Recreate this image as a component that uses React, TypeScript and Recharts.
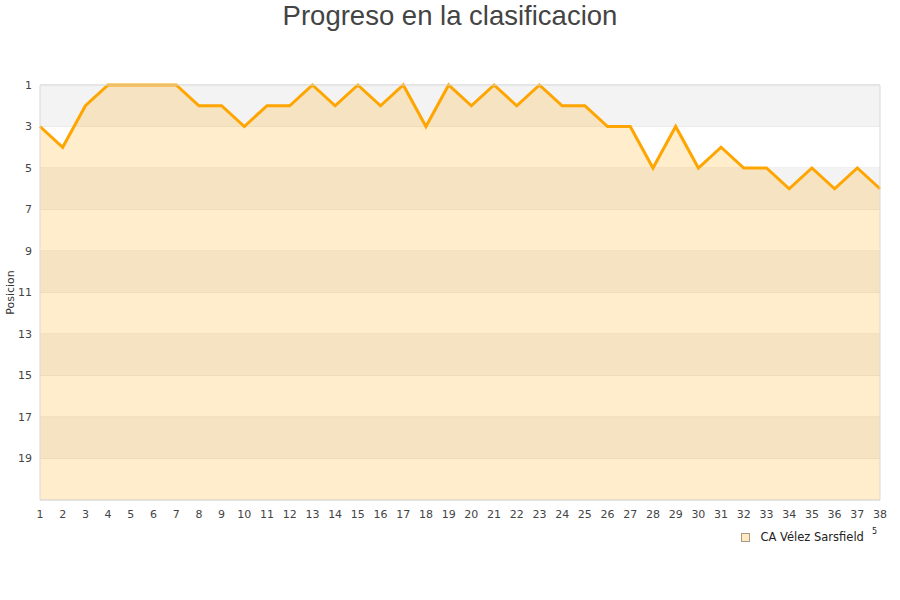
import React from 'react';
import { ComposedChart, Area, XAxis, YAxis, CartesianGrid, ReferenceArea, Legend } from 'recharts';

// matchdays
const rounds = [1, 2, 3, 4, 5, 6, 7, 8, 9, 10, 11, 12, 13, 14, 15, 16, 17, 18, 19,
  20, 21, 22, 23, 24, 25, 26, 27, 28, 29, 30, 31, 32, 33, 34, 35, 36, 37, 38];

// table position after each matchday
const positions = [3, 4, 2, 1, 1, 1, 1, 2, 2, 3, 2, 2, 1, 2, 1, 2, 1, 3, 1,
  2, 1, 2, 1, 2, 2, 3, 3, 5, 3, 5, 4, 5, 5, 6, 5, 6, 5, 6];

const yTicks = [1, 3, 5, 7, 9, 11, 13, 15, 17, 19];
const teamName = 'CA Vélez Sarsfield';

const data = rounds.map((r, i) => ({ round: r, pos: positions[i] }));

// shaded bands: every other tick interval
const bands = yTicks.filter((_, i) => i % 2 === 0).map((t) => [t, t + 2]);

const font = '"DejaVu Sans", Verdana, sans-serif';

function LegendBox() {
  return (
    <div style={{ display: 'flex', alignItems: 'center', justifyContent: 'flex-end', fontFamily: font, fontSize: 11.5, lineHeight: '13px', color: '#222', paddingRight: 22 }}>
      <span style={{ display: 'inline-block', width: 7, height: 7, background: '#ffe9c2', border: '1px solid #a89a80', marginRight: 10 }} />
      <span>{teamName}</span>
      <span style={{ fontSize: 8, marginLeft: 8, position: 'relative', top: -6 }}>5</span>
    </div>
  );
}

export default function App() {
  return (
    <div style={{ position: 'absolute', left: 0, top: 0, width: 900, height: 600, background: '#fff' }}>
      <div style={{ position: 'absolute', top: 0, left: 0, width: 900, textAlign: 'center', fontFamily: '"Liberation Sans", Arial, sans-serif', fontSize: 27.5, color: '#444', lineHeight: '32px' }}>
        Progreso en la clasificacion
      </div>
      <ComposedChart width={900} height={600} data={data} margin={{ top: 85, right: 20, left: 8, bottom: 67 }}>
        {bands.map(([a, b]) => (
          <ReferenceArea key={a} y1={a} y2={b} fill="#f3f3f3" fillOpacity={1} stroke="none" />
        ))}
        <CartesianGrid vertical={false} stroke="#e0e0e0" />
        <XAxis
          type="number"
          dataKey="round"
          domain={[1, 38]}
          ticks={rounds}
          interval={0}
          axisLine={false}
          tickLine={false}
          height={20}
          tick={{ fontSize: 11, fill: '#444', fontFamily: font }}
          tickMargin={4}
        />
        <YAxis
          type="number"
          domain={[1, 21]}
          reversed
          ticks={yTicks}
          interval={0}
          axisLine={false}
          tickLine={false}
          width={32}
          tick={{ fontSize: 11, fill: '#444', fontFamily: font }}
          label={{ value: 'Posicion', angle: -90, position: 'insideLeft', offset: 2, style: { fontSize: 11, fill: '#333', fontFamily: font, textAnchor: 'middle' } }}
        />
        <Area
          type="linear"
          dataKey="pos"
          name={teamName}
          baseValue={21}
          stroke="#ffa500"
          strokeWidth={3}
          fill="#ffa500"
          fillOpacity={0.2}
          dot={false}
          activeDot={false}
          isAnimationActive={false}
        />
        <ReferenceArea x1={1} x2={38} y1={1} y2={21} fill="none" stroke="#d9d9d9" strokeWidth={1} />
        <Legend verticalAlign="bottom" align="right" content={<LegendBox />} wrapperStyle={{ bottom: 56, right: 1 }} />
      </ComposedChart>
    </div>
  );
}
